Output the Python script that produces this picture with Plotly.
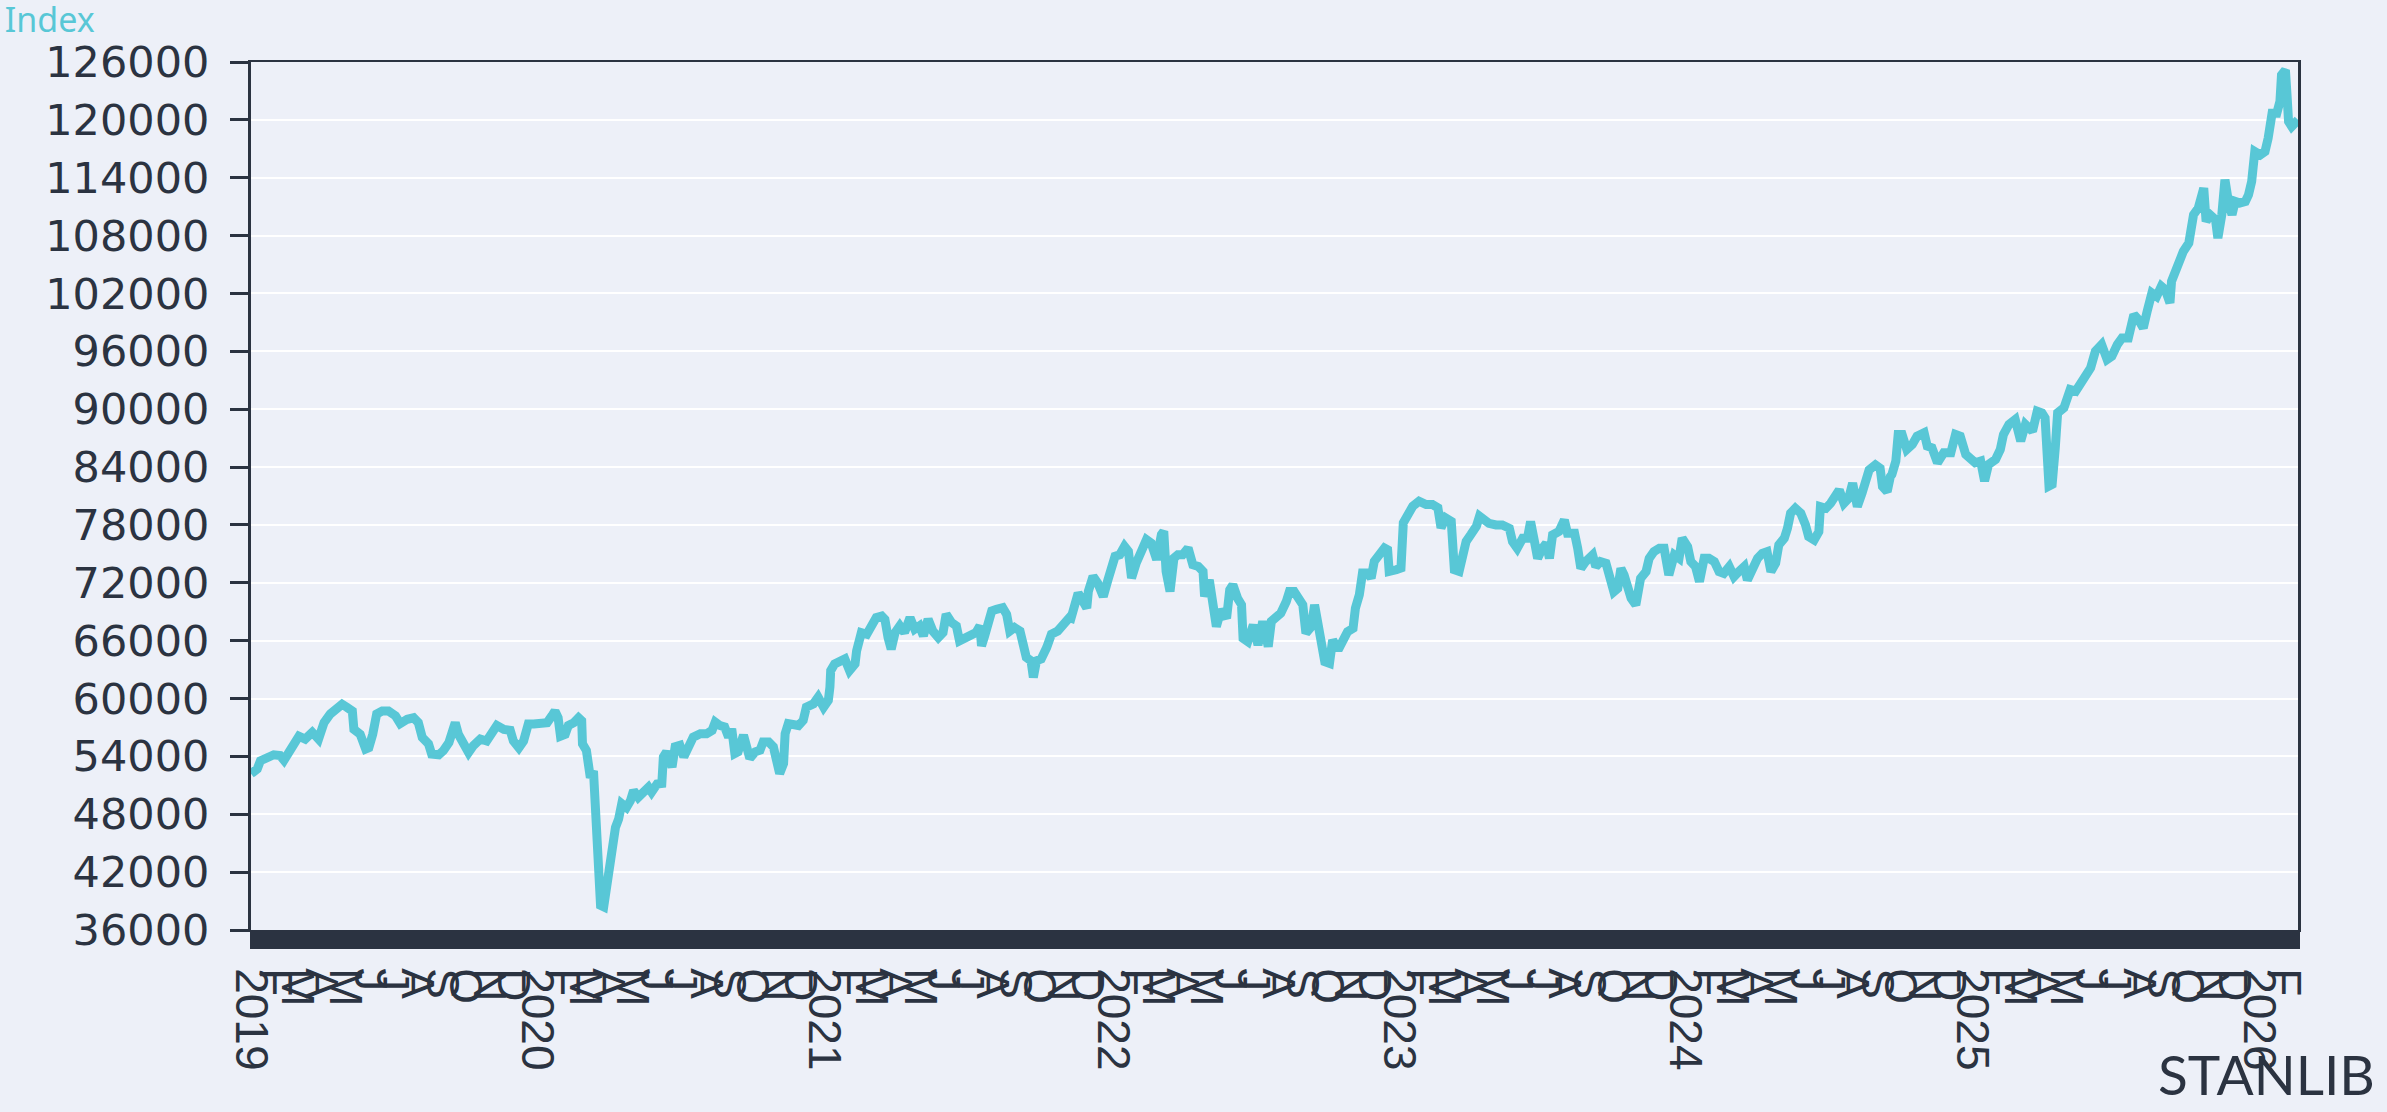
import pandas as pd
import plotly.graph_objects as go

# ---------------- data ----------------
base_date = "2019-01-01"

day_offsets = [
    1, 9, 13, 21, 30, 38, 43, 49, 56, 62, 70, 79, 87, 94, 102, 111, 117, 123, 130, 132,
    140, 147, 151, 156, 161, 168, 176, 185, 191, 200, 208, 214, 219, 227, 231, 240, 246, 253, 257, 261,
    265, 272, 278, 284, 293, 301, 308, 314, 323, 331, 335, 342, 348, 354, 361, 369, 378, 384, 388, 392,
    395, 401, 405, 412, 418, 422, 423, 428, 431, 433, 437, 439, 441, 443, 446, 450, 453, 456, 460, 465,
    469, 473, 479, 484, 488, 494, 501, 507, 511, 518,
    524, 526, 530, 537, 541, 547, 552, 558, 564, 573, 581, 588, 592, 598, 604, 609, 613, 617, 621, 628,
    631, 636, 643, 649, 653, 660, 666, 670, 674, 679, 681, 685, 691, 698, 704, 708, 717, 723, 730, 736,
    738, 739, 744, 751, 757, 763, 770, 772, 774, 778, 785, 791, 797, 804, 808, 812, 816, 821, 827, 833,
    840, 846, 852, 857, 863, 869, 876, 882, 886, 893, 899, 903, 910, 918, 924, 929, 931, 935, 939, 944,
    950, 958, 963, 967, 973, 980, 984, 988, 994, 997, 1001, 1007, 1014, 1020, 1028, 1035, 1043,
    1045, 1050, 1054, 1058, 1065, 1067, 1073, 1079, 1086, 1092, 1096, 1101, 1107, 1113, 1118, 1122, 1128,
    1135, 1141, 1147, 1154, 1160, 1163, 1166, 1171, 1176, 1181, 1187, 1194, 1200, 1207, 1213, 1215, 1221,
    1226, 1230, 1236, 1243, 1247, 1251, 1257, 1262, 1264, 1270, 1277, 1283, 1289, 1296, 1300, 1306, 1312,
    1319, 1323, 1329, 1334, 1340, 1344, 1351, 1355, 1359, 1363, 1368, 1374, 1378, 1385, 1391, 1397, 1404,
    1407, 1412, 1416, 1423, 1427, 1431, 1438, 1444, 1448, 1450, 1459, 1465, 1468, 1474, 1480, 1488, 1497,
    1505, 1512, 1516, 1522, 1529, 1533, 1539, 1544, 1548, 1554, 1561, 1565,
    1569, 1577, 1586, 1594, 1603, 1607, 1613, 1620, 1626, 1630, 1635, 1639, 1645, 1650, 1654, 1658, 1666,
    1673, 1677, 1686, 1690, 1694, 1700, 1709, 1713, 1719, 1726, 1730, 1736, 1741, 1745, 1749, 1753, 1758,
    1764, 1770, 1777, 1781, 1787, 1794, 1800, 1806, 1813, 1819, 1823, 1830, 1834, 1840, 1845, 1851, 1857,
    1864, 1870, 1876, 1883, 1889, 1895, 1902, 1906, 1912, 1919, 1925, 1931, 1936, 1942, 1946, 1953, 1957,
    1961, 1967, 1974, 1980, 1984, 1991, 1997, 1999, 2006, 2012, 2016, 2023, 2029, 2035, 2040, 2046, 2052,
    2056, 2061, 2069, 2075, 2078, 2084, 2088,
    2090, 2095, 2098, 2103, 2109, 2116, 2122, 2131, 2135, 2141, 2148, 2156, 2165, 2171, 2177, 2184, 2190,
    2196, 2203, 2208, 2213, 2222, 2228, 2232, 2239, 2247, 2254, 2260, 2269, 2275, 2281, 2285, 2290, 2294,
    2298, 2301, 2309, 2313, 2317, 2324, 2330, 2336, 2343, 2349, 2357, 2364, 2370, 2377, 2383, 2391, 2398,
    2404, 2410, 2415, 2421, 2427, 2433, 2438, 2444, 2446, 2451, 2455, 2461, 2468, 2470, 2474, 2480, 2487,
    2490, 2495, 2502, 2505, 2510, 2514, 2519, 2523, 2527, 2533, 2540, 2544, 2548, 2552, 2559, 2565, 2569,
    2574, 2580, 2584, 2586, 2591, 2593, 2595, 2599, 2603, 2607,
]

index_values = [
    52200, 52700, 53550, 53900, 54170, 54100, 53600, 54400, 55600, 56100, 55800, 56500, 55800, 57500, 58400, 59100, 59400, 59100, 58700, 56800,
    56300, 54760, 54900, 56300, 58400, 58700, 58700, 58200, 57400, 57850, 58000, 57500, 55960, 55300, 54240, 54170, 54600, 55450, 56300, 57500,
    56300, 55300, 54400, 55100, 55800, 55600, 56300, 57200, 56800, 56700, 55600, 54900, 55600, 57350, 57350, 57500, 57500, 58200, 58700, 58000,
    56100, 56300, 57200, 57500, 58000, 57700, 55300, 54600, 52860, 51800, 52500, 49400, 48400, 42900, 38550, 38400, 40100, 43200, 43900, 46650,
    47500, 49100, 48700, 49400, 50450, 49760, 50300, 50800, 50300, 51140,
    51200, 53950, 54470, 52900, 55000, 55150, 53950, 55000, 56000, 56350, 56350, 56700, 57560, 57200, 57050, 56000, 56870, 54300, 54470, 56200,
    55000, 53800, 54470, 54640, 55500, 55500, 55000, 53600, 52230, 53260, 56350, 57400, 57400, 57200, 57730, 59100, 59450, 60140, 59100, 59800,
    61170, 62890, 63580, 63750, 64100, 62890, 63580, 64950, 65800, 66840, 66670, 67530, 68390, 68560, 68220, 66330, 65120, 66840, 67530, 66840,
    68390, 67190, 67530, 66500, 68220, 67000, 66330, 66840, 68730, 67870, 67530, 65980, 66330, 66500, 66840, 67530, 65470, 66500, 67870, 69080,
    69250, 69420, 68730, 67000, 67360, 67000, 65640, 64270, 63920, 62200, 63920, 64100, 65300, 66670, 67000, 67700, 68390,
    68330, 70060, 70930, 70400, 69370, 71100, 72660, 71970, 70580, 72310, 73870, 74740, 74910, 75780, 75260, 72490, 74050,
    75430, 76470, 76130, 74400, 77000, 77340, 73180, 71100, 74570, 74910, 74910, 75610, 73870, 73700, 73180, 70580, 72310,
    70060, 67460, 69200, 68330, 71270, 71790, 70400, 69720, 66240, 65900, 67630, 65550, 68000, 65380, 68000, 68500, 68850,
    70060, 71100, 71100, 70400, 69720, 66770, 67460, 69720, 68000, 66590, 63820, 63650, 66070, 65040, 66240, 66940, 67290,
    69370, 70750, 73010, 73010, 72490, 74220, 74910, 75610, 75430, 73180, 73350, 73530, 78210, 79080, 79940, 80460, 80120,
    80120, 79770, 77690, 78730, 78380, 73350, 73180, 75090, 76300, 77000, 77860, 78900,
    78700, 78170, 78000, 78000, 77650, 76270, 75580, 76620, 76620, 78350, 76270, 74540, 75580, 76100, 74540, 76960, 77310,
    78520, 77140, 77140, 75580, 73500, 74190, 74890, 73680, 74190, 74020, 72810, 71080, 71430, 73500, 72810, 71430, 70390,
    69700, 72460, 73160, 74540, 75230, 75580, 75580, 72810, 74890, 74540, 76620, 75750, 74190, 73680, 72120, 74540, 74540,
    74190, 73160, 72980, 73680, 72640, 73160, 73680, 72290, 73500, 74540, 75060, 75230, 73160, 74020, 75930, 76620, 77650,
    79210, 79730, 79210, 78000, 76790, 76440, 77310, 79900, 79730, 80250, 80770, 81630, 80250, 80770, 82330, 79900, 81290,
    82500, 83710, 84230, 83880, 81980, 81460, 83020,
    83240, 84620, 87380, 87380, 85820, 86340, 87200, 87550, 86170, 86000, 84450, 85480, 85480, 87380, 87200, 85310, 84970,
    84450, 84620, 82550, 84270, 84790, 85820, 87380, 88420, 88930, 86690, 88420, 87720, 89800, 89620, 89100, 82030, 82200,
    86000, 89620, 90140, 91180, 92040, 91870, 92560, 93420, 94290, 96010, 96700, 95150, 95490, 96700, 97390, 97390, 99800,
    99280, 98430, 100150, 102050, 101700, 102740, 102390, 101010, 103260, 104290, 105330, 106360, 107230, 108780, 110160, 110850, 112920,
    109470, 110160, 109640, 107740, 110160, 113790, 111200, 110160, 111540, 111370, 111540, 112230, 113610, 116720, 116380, 116720, 118100,
    120690, 120690, 121900, 124660, 125180, 122590, 119830, 119310, 119660, 120000,
]

month_letters = ["J", "F", "M", "A", "M", "J", "J", "A", "S", "O", "N", "D"]
y_tick_values = [36000, 42000, 48000, 54000, 60000, 66000, 72000, 78000, 84000,
                 90000, 96000, 102000, 108000, 114000, 120000, 126000]

# ---------------- styling ----------------
LINE_COLOR = "#58C7D6"
DARK = "#2B3341"
BG = "#EDF0F8"

dates = pd.Timestamp(base_date) + pd.to_timedelta(day_offsets, unit="D")

# one tick per business day; label the first tick of each month
tick_days = pd.bdate_range(dates[0], dates[-1])
tick_text = []
prev = None
for d in tick_days:
    key = (d.year, d.month)
    if key != prev:
        tick_text.append(str(d.year) if d.month == 1 else month_letters[d.month - 1])
        prev = key
    else:
        tick_text.append("")

fig = go.Figure()
fig.add_trace(go.Scatter(
    x=dates, y=index_values, mode="lines",
    line=dict(color=LINE_COLOR, width=9),
    hoverinfo="x+y", showlegend=False,
))

fig.update_layout(
    width=2387, height=1112, autosize=False,
    paper_bgcolor=BG, plot_bgcolor=BG,
    margin=dict(l=251, r=89, t=62, b=182, autoexpand=False),
    title=dict(text="Index", x=0.002, xref="container", xanchor="left",
               y=0.993, yref="container", yanchor="top",
               pad=dict(l=0, t=0, r=0, b=0),
               font=dict(family="Noto Sans", size=34, color=LINE_COLOR)),
    font=dict(family="Liberation Sans", color=DARK),
)

fig.update_xaxes(
    type="date", automargin=False,
    range=[dates[0], dates[-1]],
    tickmode="array", tickvals=tick_days, ticktext=tick_text,
    tickangle=90,
    ticks="outside", ticklen=17, tickwidth=3, tickcolor=DARK,
    tickfont=dict(family="Liberation Sans", size=46, color=DARK),
    ticklabelstandoff=10,
    showgrid=False, zeroline=False,
    showline=True, linecolor=DARK, linewidth=2, mirror=True,
)

fig.update_yaxes(
    automargin=False,
    range=[36000, 126000],
    tickmode="array", tickvals=y_tick_values, ticktext=[str(v) for v in y_tick_values],
    ticks="outside", ticklen=18, tickwidth=3, tickcolor=DARK,
    tickfont=dict(family="DejaVu Sans", size=43, color=DARK),
    ticklabelstandoff=12,
    showgrid=True, gridcolor="white", gridwidth=2,
    zeroline=False,
    showline=True, linecolor=DARK, linewidth=3, mirror=True,
)

fig.add_annotation(
    text="STANLIB", xref="paper", yref="paper",
    x=1.0386, y=-0.166, xanchor="right", yanchor="middle",
    showarrow=False,
    font=dict(family="Lato", size=55, color=DARK),
)

fig.write_html(
    "out.html",
    config={"displayModeBar": False},
    post_script="document.body.style.margin='0';document.body.style.background='" + BG + "';",
)
